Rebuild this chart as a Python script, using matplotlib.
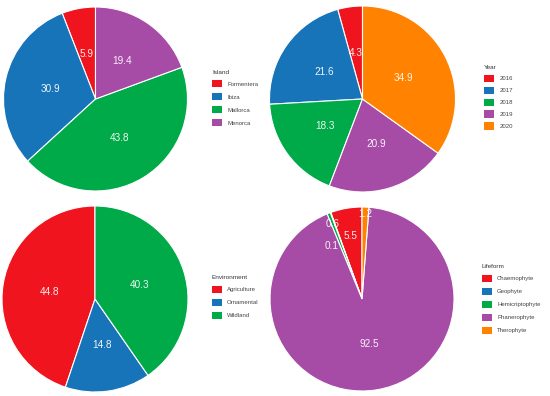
import matplotlib
matplotlib.use("Agg")
import matplotlib.pyplot as plt
import numpy as np
from matplotlib.patches import Patch

W, H = 550, 396

island_labels = ["Formentera", "Ibiza", "Mallorca", "Menorca"]
island_values = [5.9, 30.9, 43.8, 19.4]

year_labels = ["2016", "2017", "2018", "2019", "2020"]
year_values = [4.3, 21.6, 18.3, 20.9, 34.9]

env_labels = ["Agriculture", "Ornamental", "Wildland"]
env_values = [44.8, 14.8, 40.3]

life_labels = ["Chaemophyte", "Geophyte", "Hemicriptophyte", "Phanerophyte", "Therophyte"]
life_values = [5.5, 0.1, 0.6, 92.5, 1.2]

COLORS = ["#f0141e", "#1874b8", "#00aa48", "#a64ca6", "#ff8200"]

plt.rcParams["font.family"] = ["Liberation Sans", "DejaVu Sans"]


def draw_pie(fig, ax, values, labels, title, center, radius, legend_xy,
             label_r=None, label_turn=None, spacing=0.95):
    cx, cy = center[0], H - center[1]
    colors = COLORS[:len(values)]
    wedges, _ = ax.pie(
        values,
        colors=colors,
        startangle=90,
        counterclock=True,
        center=(cx, cy),
        radius=radius,
        frame=True,
        wedgeprops=dict(edgecolor="white", linewidth=0.8),
    )
    if label_r is None:
        label_r = [0.5] * len(values)
    if label_turn is None:
        label_turn = [0] * len(values)
    for w, v, lr, turn in zip(wedges, values, label_r, label_turn):
        ang = np.deg2rad((w.theta1 + w.theta2) / 2 + turn)
        ax.text(
            cx + lr * radius * np.cos(ang),
            cy + lr * radius * np.sin(ang),
            f"{v:.1f}",
            color="white",
            alpha=0.92,
            fontsize=7.2,
            ha="center",
            va="center",
        )

    handles = [Patch(facecolor=c, edgecolor="none", label=l) for c, l in zip(colors, labels)]
    leg = fig.legend(
        handles=handles,
        title=title,
        loc="upper left",
        bbox_to_anchor=(legend_xy[0] / W, 1 - legend_xy[1] / H),
        frameon=False,
        fontsize=4.3,
        title_fontsize=4.6,
        handlelength=1.7,
        handleheight=1.5,
        labelspacing=spacing,
        handletextpad=0.85,
        borderpad=0,
        borderaxespad=0,
        alignment="left",
        labelcolor="#444444",
    )
    leg.get_title().set_color("#333333")


def main():
    fig = plt.figure(figsize=(W / 100, H / 100), dpi=100)
    ax = fig.add_axes([0, 0, 1, 1])

    draw_pie(fig, ax, island_values, island_labels, "Island", (95.5, 99), 92, (212, 69.5))
    draw_pie(fig, ax, year_values, year_labels, "Year", (362.5, 99), 93, (484, 65),
             spacing=0.78)
    draw_pie(fig, ax, env_values, env_labels, "Environment", (95, 299), 93, (212, 275))
    draw_pie(
        fig, ax, life_values, life_labels, "Lifeform", (362, 299), 92, (482, 264),
        label_r=[0.7, 0.66, 0.87, 0.5, 0.92],
        label_turn=[0, 10, 0, 0, 0],
    )

    ax.set_xlim(0, W)
    ax.set_ylim(0, H)
    ax.axis("off")
    fig.savefig("out.png", dpi=100)
    plt.close(fig)


if __name__ == "__main__":
    main()
